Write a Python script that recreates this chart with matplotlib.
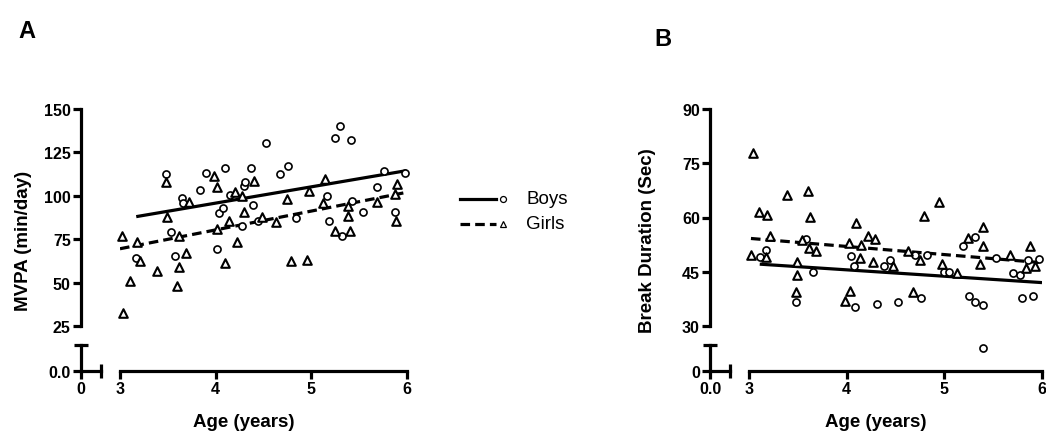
import matplotlib
matplotlib.use('Agg')
import matplotlib.pyplot as plt
from matplotlib.lines import Line2D

plt.rcParams['font.family'] = ['Liberation Sans', 'DejaVu Sans']

# ---- panel A : MVPA ----
a_boys_age = [3.17, 3.48, 3.53, 3.58, 3.65, 3.66, 3.84, 3.90, 4.02, 4.04, 4.08, 4.10,
              4.15, 4.28, 4.30, 4.31, 4.37, 4.39, 4.45, 4.53, 4.68, 4.76, 4.84, 5.17,
              5.19, 5.25, 5.30, 5.32, 5.42, 5.43, 5.54, 5.69, 5.76, 5.88, 5.98]
a_boys_mvpa = [64, 112.6, 79, 65.5, 98.7, 95.9, 103.5, 113, 69.4, 90.1, 92.8, 116,
               100.5, 82.4, 105.5, 107.8, 116, 94.9, 85.7, 130.2, 112.4, 117, 87.2, 99.7,
               85.3, 133.3, 140.2, 77, 132, 97.2, 90.8, 104.9, 114.5, 90.5, 113.1]
a_girls_age = [3.02, 3.03, 3.10, 3.18, 3.21, 3.39, 3.48, 3.49, 3.60, 3.62, 3.62, 3.69,
               3.72, 3.98, 4.02, 4.02, 4.10, 4.14, 4.20, 4.23, 4.28, 4.30, 4.40, 4.49,
               4.63, 4.75, 4.79, 4.96, 4.98, 5.13, 5.15, 5.25, 5.39, 5.39, 5.41, 5.69,
               5.88, 5.89, 5.90]
a_girls_mvpa = [77, 32.5, 50.7, 73.6, 62.6, 56.9, 107.8, 87.6, 47.9, 77, 59.2, 67,
                96.3, 111.6, 105.2, 80.9, 61.3, 85.7, 102, 73.2, 100, 90.8, 108.4, 88,
                84.7, 98.2, 62.3, 63, 102.6, 95.7, 109.7, 79.9, 94.3, 88.5, 79.9, 96.3,
                101, 85.7, 106.8]
a_boys_fit_x = [3.17, 6.0]
a_boys_fit_y = [88, 114.5]
a_girls_fit_x = [3.0, 6.0]
a_girls_fit_y = [69.5, 102]

# ---- panel B : break duration ----
b_boys_age = [3.11, 3.17, 3.48, 3.58, 3.66, 4.04, 4.08, 4.09, 4.31, 4.38, 4.44, 4.53,
              4.70, 4.76, 4.82, 5.00, 5.05, 5.19, 5.25, 5.31, 5.31, 5.40, 5.40, 5.53,
              5.70, 5.77, 5.80, 5.86, 5.91, 5.97]
b_boys_dur = [49, 51, 36.7, 54.1, 44.8, 49.3, 46.7, 35.2, 36.1, 46.5, 48.3, 36.6,
              49.6, 37.7, 49.6, 45, 45, 52.2, 38.2, 54.5, 36.6, 35.8, 23.8, 48.8,
              44.7, 44.1, 37.7, 48.3, 38.2, 48.6]
b_girls_age = [3.02, 3.04, 3.10, 3.17, 3.18, 3.22, 3.39, 3.48, 3.49, 3.49, 3.54, 3.60,
               3.61, 3.62, 3.69, 3.98, 4.02, 4.03, 4.10, 4.14, 4.15, 4.22, 4.27, 4.29,
               4.47, 4.63, 4.68, 4.75, 4.79, 4.95, 4.98, 5.13, 5.24, 5.37, 5.40, 5.40,
               5.67, 5.84, 5.88, 5.93]
b_girls_dur = [49.7, 77.8, 61.4, 49, 60.7, 55, 66.2, 39.3, 47.6, 44.2, 53.8, 67.2,
               51.5, 60.1, 50.8, 37, 52.9, 39.8, 58.5, 48.7, 52.5, 55, 47.6, 54.1,
               46.5, 50.8, 39.3, 48.3, 60.3, 64.4, 47.1, 44.7, 54.3, 47.1, 57.5, 52.1,
               49.6, 46, 52.1, 46.7]
b_boys_fit_x = [3.11, 6.0]
b_boys_fit_y = [47.1, 42.0]
b_girls_fit_x = [3.02, 6.0]
b_girls_fit_y = [54.2, 47.5]

W, H = 1046, 435
fig = plt.figure(figsize=(W / 100, H / 100), dpi=100)


def px(x0, y0, x1, y1):
    # pixel box (top-left origin) -> figure fraction rect
    return [x0 / W, (H - y1) / H, (x1 - x0) / W, (y1 - y0) / H]


SPW = 2.3
TKL = 5.8
CAPL = 9.5


def style_ticks(ax):
    ax.tick_params(which='major', direction='out', length=TKL, width=SPW, labelsize=11.5, pad=1.5)
    ax.tick_params(which='minor', direction='inout', length=CAPL, width=SPW)
    for lab in ax.get_xticklabels() + ax.get_yticklabels():
        lab.set_fontweight('bold')


def make_panel(x0, x1, yspine_px, ylim, yticks, ytl_main, ytl_low, xtl_low, ylabel, letter, letter_pos,
               ylab_x):
    ytop, ybot, xaxis = 110, 327, 372
    ax = fig.add_axes(px(x0, ytop, x1, ybot))
    ax.set_facecolor('none')
    ax.set_xlim(3, 6)
    ax.set_ylim(*ylim)
    for s in ['top', 'right']:
        ax.spines[s].set_visible(False)
    ax.spines['left'].set_position(('axes', (yspine_px - x0) / (x1 - x0)))
    ax.spines['bottom'].set_position(('axes', (ybot - xaxis) / (ybot - ytop)))
    for s in ['left', 'bottom']:
        ax.spines[s].set_linewidth(SPW)
    ax.set_xticks([3, 4, 5, 6])
    ax.set_xticks([3, 6], minor=True)
    ax.set_yticks(yticks)
    ax.set_yticklabels(ytl_main)
    ax.set_yticks([ylim[0], ylim[1]], minor=True)
    style_ticks(ax)
    ax.set_xlabel('Age (years)', fontsize=13.5, fontweight='bold', va='center')
    ax.set_ylabel(ylabel, fontsize=13.5, fontweight='bold', va='center')
    ax.xaxis.set_label_coords(((yspine_px + x1) / 2 - x0) / (x1 - x0), (ybot - 423) / (ybot - ytop))
    ax.yaxis.set_label_coords((ylab_x - x0) / (x1 - x0), (ybot - (ytop + xaxis) / 2) / (ybot - ytop))

    # broken lower-left piece
    axs = fig.add_axes(px(yspine_px, 346, yspine_px + 19.5, xaxis))
    axs.set_facecolor('none')
    axs.set_xlim(0, 1)
    axs.set_ylim(0, 1)
    for s in ['top', 'right']:
        axs.spines[s].set_visible(False)
    for s in ['left', 'bottom']:
        axs.spines[s].set_linewidth(SPW)
    axs.set_xticks([0])
    axs.set_xticklabels([xtl_low])
    axs.set_yticks([0])
    axs.set_yticklabels([ytl_low])
    axs.set_xticks([1], minor=True)
    axs.set_yticks([1], minor=True)
    style_ticks(axs)

    fig.text(letter_pos[0] / W, 1 - letter_pos[1] / H, letter, fontsize=17, fontweight='bold',
             ha='center', va='center')
    return ax


def draw_data(ax, bx, by, gx, gy, bfx, bfy, gfx, gfy):
    ax.plot(bfx, bfy, color='black', lw=2.3, solid_capstyle='butt', zorder=3)
    ax.plot(gfx, gfy, color='black', lw=2.3, dashes=(3, 1.6), zorder=3)
    ax.scatter(bx, by, s=26, marker='o', facecolors='white', edgecolors='black',
               linewidths=1.2, clip_on=False, zorder=4)
    ax.scatter(gx, gy, s=38, marker='^', facecolors='white', edgecolors='black',
               linewidths=1.5, clip_on=False, zorder=4)


axA = make_panel(120, 406.5, 81, (25, 150), [25, 50, 75, 100, 125, 150],
                 ['25', '50', '75', '100', '125', '150'], '0.0', '0',
                 'MVPA (min/day)', 'A', (27, 31), 24)
draw_data(axA, a_boys_age, a_boys_mvpa, a_girls_age, a_girls_mvpa,
          a_boys_fit_x, a_boys_fit_y, a_girls_fit_x, a_girls_fit_y)

axB = make_panel(749, 1042, 710, (30, 90), [30, 45, 60, 75, 90],
                 ['30', '45', '60', '75', '90'], '0', '0.0',
                 'Break Duration (Sec)', 'B', (663, 40), 648)
draw_data(axB, b_boys_age, b_boys_dur, b_girls_age, b_girls_dur,
          b_boys_fit_x, b_boys_fit_y, b_girls_fit_x, b_girls_fit_y)

# legend (line then marker then label)
for yy, dash, mk, lab in [(200, None, 'o', 'Boys'), (225, (3, 1.6), '^', 'Girls')]:
    ln = Line2D([460 / W, 496 / W], [1 - yy / H] * 2, transform=fig.transFigure,
                color='black', lw=2.3)
    if dash:
        ln.set_dashes(dash)
    fig.add_artist(ln)
    fig.add_artist(Line2D([503 / W], [1 - yy / H], transform=fig.transFigure, marker=mk,
                          markersize=4.3, markerfacecolor='white', markeredgecolor='black',
                          markeredgewidth=0.9, linestyle='none'))
    fig.text(526 / W, 1 - yy / H, lab, fontsize=13.5, va='center', ha='left')

fig.savefig('out.png', dpi=100)
